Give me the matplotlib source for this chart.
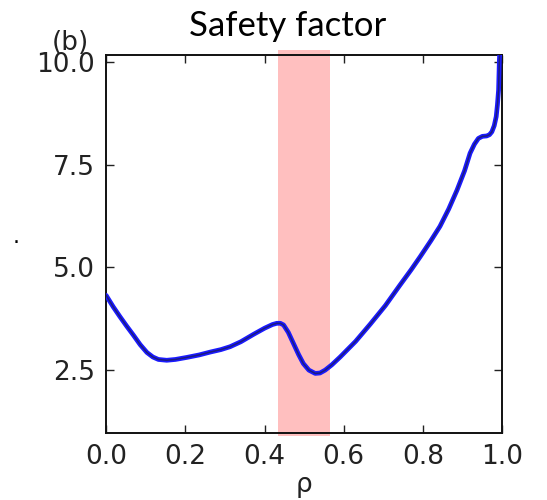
import matplotlib
matplotlib.use("Agg")
import matplotlib.pyplot as plt

plt.rcParams["font.family"] = ["DejaVu Sans"]

# ── Data ──────────────────────────────────────────────────────────────────────
rho = [0.000, 0.018, 0.035, 0.052, 0.069, 0.086, 0.103, 0.118, 0.132, 0.153,
       0.175, 0.204, 0.235, 0.263, 0.290, 0.313, 0.340, 0.372, 0.400, 0.420,
       0.431, 0.440, 0.448, 0.460, 0.473, 0.486, 0.498, 0.512, 0.528, 0.540,
       0.553, 0.570, 0.591, 0.630, 0.667, 0.705, 0.742, 0.770, 0.793, 0.820,
       0.843, 0.865, 0.886, 0.905, 0.919, 0.930, 0.940, 0.950, 0.961, 0.968,
       0.974, 0.980, 0.985, 0.988, 0.991, 0.993, 0.995]
q = [4.32, 4.04, 3.80, 3.57, 3.35, 3.12, 2.93, 2.82, 2.76, 2.74,
     2.76, 2.81, 2.87, 2.94, 3.00, 3.07, 3.19, 3.37, 3.52, 3.61,
     3.64, 3.64, 3.60, 3.42, 3.15, 2.88, 2.66, 2.50, 2.42, 2.43,
     2.50, 2.63, 2.82, 3.20, 3.62, 4.07, 4.57, 4.94, 5.26, 5.65,
     6.00, 6.42, 6.88, 7.35, 7.78, 8.00, 8.14, 8.19, 8.20, 8.23,
     8.30, 8.45, 8.67, 8.95, 9.32, 10.05, 10.40]

span_lo, span_hi = 0.433, 0.565
x_ticks = [0.0, 0.2, 0.4, 0.6, 0.8, 1.0]
y_ticks = [2.5, 5.0, 7.5, 10.0]

# ── Plot ──────────────────────────────────────────────────────────────────────
fig = plt.figure(figsize=(5.47, 5.00), dpi=100)
ax = fig.add_axes([0.194, 0.134, 0.724, 0.756])

ax.axvspan(span_lo, span_hi, ymin=-0.008, ymax=1.013, color="red", alpha=0.25,
           lw=0, clip_on=False, zorder=0)
ax.plot(rho, q, color="#1a1aff", lw=3.4, solid_joinstyle="round",
        solid_capstyle="round", zorder=3)
ax.plot(rho, q, color="#1c1c80", lw=1.1, solid_joinstyle="round", zorder=4)

ax.set_xlim(0, 1)
ax.set_ylim(0.97, 10.17)
ax.set_xticks(x_ticks)
ax.set_yticks(y_ticks)
ax.set_xticklabels([f"{v:.1f}" for v in x_ticks])
ax.set_yticklabels([f"{v:.1f}" for v in y_ticks])
ax.tick_params(direction="in", length=6, width=1, top=True, right=True,
               labelsize=19, pad=8, colors="#222222", labelcolor="#222222")
for s in ax.spines.values():
    s.set_linewidth(1.4)
    s.set_color("#111111")

ax.set_xlabel("ρ", fontsize=19, labelpad=1, color="#222222")

fig.text(16 / 547, 1 - 243 / 500, ".", fontsize=16, ha="center", va="baseline")
fig.text(70 / 547, 1 - 50 / 500, "(b)", fontsize=19, ha="center", va="baseline",
         color="#222222")
fig.text(288 / 547, 1 - 36 / 500, "Safety factor", fontsize=25, family="Lato",
         ha="center", va="baseline")

fig.savefig("out.png", dpi=100)
